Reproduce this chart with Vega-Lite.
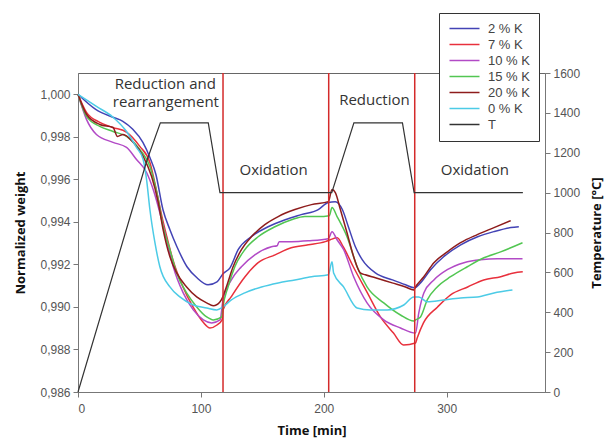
{
  "$schema": "https://vega.github.io/schema/vega-lite/v6.json",
  "autosize": {"type": "none"},
  "width": 467,
  "height": 319,
  "padding": {"left": 78, "top": 73, "right": 62, "bottom": 52},
  "background": "white",
  "config": {
    "view": {"stroke": "#666", "strokeWidth": 1},
    "axis": {"grid": false, "domainColor": "#777", "tickColor": "#777", "labelColor": "#555", "labelFont": "Liberation Sans", "labelFontSize": 12, "titleFont": "Open Sans", "titleFontSize": 13, "titleFontWeight": "bold", "titleColor": "#111", "tickSize": 5}
  },
  "datasets": {
    "weight": [
      {"series": "2 % K", "t": 0, "w": 1.0},
      {"series": "2 % K", "t": 14.4, "w": 0.99929},
      {"series": "2 % K", "t": 28.3, "w": 0.99892},
      {"series": "2 % K", "t": 36.5, "w": 0.99873},
      {"series": "2 % K", "t": 44.6, "w": 0.99835},
      {"series": "2 % K", "t": 52.8, "w": 0.99774},
      {"series": "2 % K", "t": 58.5, "w": 0.99703},
      {"series": "2 % K", "t": 63.4, "w": 0.99623},
      {"series": "2 % K", "t": 69.1, "w": 0.99458},
      {"series": "2 % K", "t": 74.8, "w": 0.99363},
      {"series": "2 % K", "t": 80.5, "w": 0.99283},
      {"series": "2 % K", "t": 88.7, "w": 0.99189},
      {"series": "2 % K", "t": 96.8, "w": 0.99137},
      {"series": "2 % K", "t": 105.8, "w": 0.99104},
      {"series": "2 % K", "t": 113.1, "w": 0.99118},
      {"series": "2 % K", "t": 118, "w": 0.99156},
      {"series": "2 % K", "t": 123.7, "w": 0.99184},
      {"series": "2 % K", "t": 130.3, "w": 0.99269},
      {"series": "2 % K", "t": 140.8, "w": 0.9933},
      {"series": "2 % K", "t": 154.7, "w": 0.99377},
      {"series": "2 % K", "t": 168.6, "w": 0.9941},
      {"series": "2 % K", "t": 181.6, "w": 0.99434},
      {"series": "2 % K", "t": 195.5, "w": 0.99458},
      {"series": "2 % K", "t": 203.6, "w": 0.99491},
      {"series": "2 % K", "t": 209.4, "w": 0.99495},
      {"series": "2 % K", "t": 215.1, "w": 0.99458},
      {"series": "2 % K", "t": 220, "w": 0.99377},
      {"series": "2 % K", "t": 225.7, "w": 0.99283},
      {"series": "2 % K", "t": 231.4, "w": 0.99221},
      {"series": "2 % K", "t": 242, "w": 0.9916},
      {"series": "2 % K", "t": 255.9, "w": 0.99127},
      {"series": "2 % K", "t": 266.5, "w": 0.99104},
      {"series": "2 % K", "t": 273.8, "w": 0.9909},
      {"series": "2 % K", "t": 278.7, "w": 0.99113},
      {"series": "2 % K", "t": 286.9, "w": 0.99175},
      {"series": "2 % K", "t": 297.5, "w": 0.99236},
      {"series": "2 % K", "t": 311.4, "w": 0.99292},
      {"series": "2 % K", "t": 325.2, "w": 0.9933},
      {"series": "2 % K", "t": 338.3, "w": 0.99354},
      {"series": "2 % K", "t": 352.2, "w": 0.99373},
      {"series": "2 % K", "t": 358.7, "w": 0.99377},

      {"series": "7 % K", "t": 0, "w": 1.0},
      {"series": "7 % K", "t": 6.9, "w": 0.99915},
      {"series": "7 % K", "t": 17.7, "w": 0.99868},
      {"series": "7 % K", "t": 28.3, "w": 0.99844},
      {"series": "7 % K", "t": 39.7, "w": 0.99821},
      {"series": "7 % K", "t": 50.3, "w": 0.99755},
      {"series": "7 % K", "t": 58.5, "w": 0.99679},
      {"series": "7 % K", "t": 64.2, "w": 0.99538},
      {"series": "7 % K", "t": 68.3, "w": 0.99425},
      {"series": "7 % K", "t": 72.3, "w": 0.9933},
      {"series": "7 % K", "t": 77.2, "w": 0.99222},
      {"series": "7 % K", "t": 85.4, "w": 0.99094},
      {"series": "7 % K", "t": 93.6, "w": 0.99},
      {"series": "7 % K", "t": 101.7, "w": 0.98929},
      {"series": "7 % K", "t": 107.4, "w": 0.98901},
      {"series": "7 % K", "t": 113.1, "w": 0.98915},
      {"series": "7 % K", "t": 117.2, "w": 0.98939},
      {"series": "7 % K", "t": 118, "w": 0.98986},
      {"series": "7 % K", "t": 124.6, "w": 0.99047},
      {"series": "7 % K", "t": 135.9, "w": 0.99142},
      {"series": "7 % K", "t": 146.6, "w": 0.99208},
      {"series": "7 % K", "t": 160.4, "w": 0.99245},
      {"series": "7 % K", "t": 173.5, "w": 0.99278},
      {"series": "7 % K", "t": 187.4, "w": 0.99292},
      {"series": "7 % K", "t": 201.2, "w": 0.99307},
      {"series": "7 % K", "t": 205.3, "w": 0.99316},
      {"series": "7 % K", "t": 210.9, "w": 0.99325},
      {"series": "7 % K", "t": 215.8, "w": 0.99283},
      {"series": "7 % K", "t": 224, "w": 0.99189},
      {"series": "7 % K", "t": 235.5, "w": 0.99066},
      {"series": "7 % K", "t": 246.1, "w": 0.98953},
      {"series": "7 % K", "t": 256.7, "w": 0.98877},
      {"series": "7 % K", "t": 264.9, "w": 0.98821},
      {"series": "7 % K", "t": 274.6, "w": 0.9883},
      {"series": "7 % K", "t": 276, "w": 0.98854},
      {"series": "7 % K", "t": 281.1, "w": 0.98925},
      {"series": "7 % K", "t": 292.6, "w": 0.99},
      {"series": "7 % K", "t": 303.2, "w": 0.99057},
      {"series": "7 % K", "t": 317.1, "w": 0.99094},
      {"series": "7 % K", "t": 330.1, "w": 0.99127},
      {"series": "7 % K", "t": 344, "w": 0.99142},
      {"series": "7 % K", "t": 354.6, "w": 0.9916},
      {"series": "7 % K", "t": 361.9, "w": 0.99165},

      {"series": "10 % K", "t": 0, "w": 1.0},
      {"series": "10 % K", "t": 6.9, "w": 0.99882},
      {"series": "10 % K", "t": 15, "w": 0.99811},
      {"series": "10 % K", "t": 28.5, "w": 0.99774},
      {"series": "10 % K", "t": 39.5, "w": 0.9975},
      {"series": "10 % K", "t": 47.6, "w": 0.99693},
      {"series": "10 % K", "t": 55.8, "w": 0.99632},
      {"series": "10 % K", "t": 61.2, "w": 0.99552},
      {"series": "10 % K", "t": 66.6, "w": 0.99443},
      {"series": "10 % K", "t": 72.1, "w": 0.99316},
      {"series": "10 % K", "t": 77.5, "w": 0.99189},
      {"series": "10 % K", "t": 85.6, "w": 0.99066},
      {"series": "10 % K", "t": 93.8, "w": 0.98986},
      {"series": "10 % K", "t": 102, "w": 0.98939},
      {"series": "10 % K", "t": 108.8, "w": 0.98925},
      {"series": "10 % K", "t": 115.6, "w": 0.98939},
      {"series": "10 % K", "t": 118, "w": 0.99033},
      {"series": "10 % K", "t": 124.8, "w": 0.99127},
      {"series": "10 % K", "t": 133, "w": 0.99189},
      {"series": "10 % K", "t": 143.9, "w": 0.99245},
      {"series": "10 % K", "t": 157.4, "w": 0.99283},
      {"series": "10 % K", "t": 162, "w": 0.99288},
      {"series": "10 % K", "t": 163.7, "w": 0.99307},
      {"series": "10 % K", "t": 173.7, "w": 0.99307},
      {"series": "10 % K", "t": 187.4, "w": 0.99311},
      {"series": "10 % K", "t": 203.7, "w": 0.99321},
      {"series": "10 % K", "t": 206.7, "w": 0.99354},
      {"series": "10 % K", "t": 210.8, "w": 0.99316},
      {"series": "10 % K", "t": 216.2, "w": 0.99269},
      {"series": "10 % K", "t": 224.3, "w": 0.99142},
      {"series": "10 % K", "t": 235.2, "w": 0.99019},
      {"series": "10 % K", "t": 248.8, "w": 0.98939},
      {"series": "10 % K", "t": 262.4, "w": 0.98901},
      {"series": "10 % K", "t": 274.6, "w": 0.98877},
      {"series": "10 % K", "t": 277.3, "w": 0.98972},
      {"series": "10 % K", "t": 281.4, "w": 0.99066},
      {"series": "10 % K", "t": 289.6, "w": 0.99127},
      {"series": "10 % K", "t": 300.5, "w": 0.99175},
      {"series": "10 % K", "t": 314, "w": 0.99208},
      {"series": "10 % K", "t": 327.6, "w": 0.99222},
      {"series": "10 % K", "t": 341.3, "w": 0.99226},
      {"series": "10 % K", "t": 361.7, "w": 0.99226},

      {"series": "15 % K", "t": 0, "w": 1.0},
      {"series": "15 % K", "t": 6.9, "w": 0.99896},
      {"series": "15 % K", "t": 17.7, "w": 0.99849},
      {"series": "15 % K", "t": 28.5, "w": 0.99825},
      {"series": "15 % K", "t": 39.5, "w": 0.99802},
      {"series": "15 % K", "t": 50.3, "w": 0.99741},
      {"series": "15 % K", "t": 58.5, "w": 0.9966},
      {"series": "15 % K", "t": 65.3, "w": 0.99505},
      {"series": "15 % K", "t": 69.3, "w": 0.99377},
      {"series": "15 % K", "t": 74.8, "w": 0.99269},
      {"series": "15 % K", "t": 80.3, "w": 0.9916},
      {"series": "15 % K", "t": 88.4, "w": 0.99066},
      {"series": "15 % K", "t": 96.6, "w": 0.99},
      {"series": "15 % K", "t": 104.7, "w": 0.98953},
      {"series": "15 % K", "t": 110.1, "w": 0.98939},
      {"series": "15 % K", "t": 117, "w": 0.98953},
      {"series": "15 % K", "t": 118, "w": 0.99},
      {"series": "15 % K", "t": 122.1, "w": 0.99094},
      {"series": "15 % K", "t": 127.6, "w": 0.99189},
      {"series": "15 % K", "t": 135.7, "w": 0.99269},
      {"series": "15 % K", "t": 146.6, "w": 0.9933},
      {"series": "15 % K", "t": 160.2, "w": 0.99377},
      {"series": "15 % K", "t": 173.7, "w": 0.9941},
      {"series": "15 % K", "t": 184.7, "w": 0.99425},
      {"series": "15 % K", "t": 195.5, "w": 0.99425},
      {"series": "15 % K", "t": 204.5, "w": 0.99429},
      {"series": "15 % K", "t": 206.7, "w": 0.99467},
      {"series": "15 % K", "t": 210.8, "w": 0.99425},
      {"series": "15 % K", "t": 218.9, "w": 0.9933},
      {"series": "15 % K", "t": 227.1, "w": 0.99189},
      {"series": "15 % K", "t": 235.2, "w": 0.99094},
      {"series": "15 % K", "t": 248.8, "w": 0.99019},
      {"series": "15 % K", "t": 262.4, "w": 0.98962},
      {"series": "15 % K", "t": 273.2, "w": 0.98934},
      {"series": "15 % K", "t": 274.6, "w": 0.98939},
      {"series": "15 % K", "t": 278.7, "w": 0.98953},
      {"series": "15 % K", "t": 284.2, "w": 0.99033},
      {"series": "15 % K", "t": 292.3, "w": 0.99094},
      {"series": "15 % K", "t": 303.2, "w": 0.99142},
      {"series": "15 % K", "t": 316.8, "w": 0.99189},
      {"series": "15 % K", "t": 330.3, "w": 0.99231},
      {"series": "15 % K", "t": 343.9, "w": 0.99259},
      {"series": "15 % K", "t": 361.7, "w": 0.99302},

      {"series": "20 % K", "t": 0, "w": 1.0},
      {"series": "20 % K", "t": 6.9, "w": 0.99906},
      {"series": "20 % K", "t": 17.7, "w": 0.99858},
      {"series": "20 % K", "t": 28.5, "w": 0.99844},
      {"series": "20 % K", "t": 32.1, "w": 0.99802},
      {"series": "20 % K", "t": 36.7, "w": 0.99811},
      {"series": "20 % K", "t": 44.9, "w": 0.99774},
      {"series": "20 % K", "t": 53, "w": 0.99708},
      {"series": "20 % K", "t": 59.9, "w": 0.99613},
      {"series": "20 % K", "t": 65.3, "w": 0.99491},
      {"series": "20 % K", "t": 69.3, "w": 0.99363},
      {"series": "20 % K", "t": 74.8, "w": 0.99236},
      {"series": "20 % K", "t": 80.3, "w": 0.9916},
      {"series": "20 % K", "t": 88.4, "w": 0.99094},
      {"series": "20 % K", "t": 96.6, "w": 0.99047},
      {"series": "20 % K", "t": 104.7, "w": 0.99019},
      {"series": "20 % K", "t": 110.1, "w": 0.99005},
      {"series": "20 % K", "t": 115.6, "w": 0.99024},
      {"series": "20 % K", "t": 116.6, "w": 0.99033},
      {"series": "20 % K", "t": 120.7, "w": 0.99094},
      {"series": "20 % K", "t": 126.2, "w": 0.99189},
      {"series": "20 % K", "t": 133, "w": 0.99269},
      {"series": "20 % K", "t": 141.1, "w": 0.9933},
      {"series": "20 % K", "t": 152, "w": 0.99387},
      {"series": "20 % K", "t": 162.9, "w": 0.99425},
      {"series": "20 % K", "t": 176.5, "w": 0.99458},
      {"series": "20 % K", "t": 190, "w": 0.99481},
      {"series": "20 % K", "t": 203.7, "w": 0.99495},
      {"series": "20 % K", "t": 206.7, "w": 0.99552},
      {"series": "20 % K", "t": 209.4, "w": 0.99538},
      {"series": "20 % K", "t": 213.5, "w": 0.99458},
      {"series": "20 % K", "t": 218.9, "w": 0.99349},
      {"series": "20 % K", "t": 224.3, "w": 0.99236},
      {"series": "20 % K", "t": 229.7, "w": 0.9916},
      {"series": "20 % K", "t": 233.8, "w": 0.99151},
      {"series": "20 % K", "t": 242, "w": 0.99137},
      {"series": "20 % K", "t": 255.6, "w": 0.99113},
      {"series": "20 % K", "t": 266.5, "w": 0.99094},
      {"series": "20 % K", "t": 273.2, "w": 0.9908},
      {"series": "20 % K", "t": 274.6, "w": 0.99094},
      {"series": "20 % K", "t": 281.4, "w": 0.99142},
      {"series": "20 % K", "t": 289.6, "w": 0.99208},
      {"series": "20 % K", "t": 300.5, "w": 0.99259},
      {"series": "20 % K", "t": 311.3, "w": 0.99302},
      {"series": "20 % K", "t": 324.9, "w": 0.9934},
      {"series": "20 % K", "t": 338.5, "w": 0.99373},
      {"series": "20 % K", "t": 352.1, "w": 0.99406},

      {"series": "0 % K", "t": 0, "w": 1.0},
      {"series": "0 % K", "t": 15, "w": 0.99943},
      {"series": "0 % K", "t": 28.5, "w": 0.99892},
      {"series": "0 % K", "t": 39.5, "w": 0.99825},
      {"series": "0 % K", "t": 47.6, "w": 0.9975},
      {"series": "0 % K", "t": 53, "w": 0.99693},
      {"series": "0 % K", "t": 55.8, "w": 0.99599},
      {"series": "0 % K", "t": 58.5, "w": 0.99458},
      {"series": "0 % K", "t": 62.6, "w": 0.99302},
      {"series": "0 % K", "t": 66.6, "w": 0.99189},
      {"series": "0 % K", "t": 74.8, "w": 0.99094},
      {"series": "0 % K", "t": 82.9, "w": 0.99047},
      {"series": "0 % K", "t": 93.8, "w": 0.99009},
      {"series": "0 % K", "t": 104.7, "w": 0.98995},
      {"series": "0 % K", "t": 112.9, "w": 0.98986},
      {"series": "0 % K", "t": 118, "w": 0.99},
      {"series": "0 % K", "t": 124.8, "w": 0.99033},
      {"series": "0 % K", "t": 135.7, "w": 0.99066},
      {"series": "0 % K", "t": 149.3, "w": 0.99094},
      {"series": "0 % K", "t": 162.9, "w": 0.99113},
      {"series": "0 % K", "t": 176.5, "w": 0.99127},
      {"series": "0 % K", "t": 190, "w": 0.99142},
      {"series": "0 % K", "t": 203.7, "w": 0.99151},
      {"series": "0 % K", "t": 206.7, "w": 0.99212},
      {"series": "0 % K", "t": 208, "w": 0.9916},
      {"series": "0 % K", "t": 216.1, "w": 0.99094},
      {"series": "0 % K", "t": 227.1, "w": 0.98995},
      {"series": "0 % K", "t": 237.9, "w": 0.98986},
      {"series": "0 % K", "t": 251.5, "w": 0.98986},
      {"series": "0 % K", "t": 265.1, "w": 0.99009},
      {"series": "0 % K", "t": 273.2, "w": 0.99047},
      {"series": "0 % K", "t": 277.3, "w": 0.99047},
      {"series": "0 % K", "t": 284.2, "w": 0.99024},
      {"series": "0 % K", "t": 297.7, "w": 0.99033},
      {"series": "0 % K", "t": 311.3, "w": 0.99042},
      {"series": "0 % K", "t": 325, "w": 0.99047},
      {"series": "0 % K", "t": 338.5, "w": 0.99066},
      {"series": "0 % K", "t": 353.5, "w": 0.9908}
    ],
    "temperature": [
      {"series": "T", "t": 0, "temp": 0},
      {"series": "T", "t": 42, "temp": 870},
      {"series": "T", "t": 56, "temp": 1160},
      {"series": "T", "t": 67, "temp": 1350},
      {"series": "T", "t": 106, "temp": 1350},
      {"series": "T", "t": 115.5, "temp": 1000},
      {"series": "T", "t": 206.5, "temp": 1000},
      {"series": "T", "t": 224.5, "temp": 1350},
      {"series": "T", "t": 264, "temp": 1350},
      {"series": "T", "t": 273.5, "temp": 1000},
      {"series": "T", "t": 362, "temp": 1000}
    ],
    "steps": [
      {"t": 118},
      {"t": 204},
      {"t": 274}
    ],
    "notes": [
      {"t": 71, "w": 1.0005, "label": "Reduction and"},
      {"t": 71.5, "w": 0.99965, "label": "rearrangement"},
      {"t": 159.2, "w": 0.99646, "label": "Oxidation"},
      {"t": 241.2, "w": 0.99972, "label": "Reduction"},
      {"t": 322.9, "w": 0.99646, "label": "Oxidation"}
    ]
  },
  "layer": [
    {
      "layer": [
        {
          "data": {"name": "weight"},
          "mark": {"type": "line", "strokeWidth": 1.5, "interpolate": "monotone"},
          "encoding": {
            "x": {"field": "t", "type": "quantitative", "scale": {"domain": [0, 380], "nice": false}, "axis": {"title": "Time [min]", "values": [0, 100, 200, 300], "labelPadding": 6, "titlePadding": 10}},
            "y": {"field": "w", "type": "quantitative", "scale": {"domain": [0.986, 1.001], "nice": false, "zero": false}, "axis": {"title": "Normalized weight", "values": [0.986, 0.988, 0.99, 0.992, 0.994, 0.996, 0.998, 1.0], "labelExpr": "replace(format(datum.value, '.3f'), '.', ',')", "labelPadding": 3, "titlePadding": 12}},
            "color": {"field": "series", "type": "nominal", "scale": {"domain": ["2 % K", "7 % K", "10 % K", "15 % K", "20 % K", "0 % K", "T"], "range": ["#4343b5", "#e8303c", "#b24ac6", "#52c652", "#8e1c1c", "#4ccbe6", "#333333"]},
              "legend": {"orient": "none", "legendX": 361, "legendY": -60, "title": null, "symbolType": "M-1,0H5", "symbolSize": 100, "symbolStrokeWidth": 1.5, "labelFont": "Liberation Sans", "labelFontSize": 13, "labelColor": "#444", "labelOffset": 27, "padding": 9, "rowPadding": 2, "strokeColor": "#333", "fillColor": "white"}}
          }
        },
        {
          "data": {"name": "notes"},
          "mark": {"type": "text", "font": "Open Sans", "fontSize": 15, "color": "#333", "baseline": "middle", "align": "center"},
          "encoding": {
            "x": {"field": "t", "type": "quantitative"},
            "y": {"field": "w", "type": "quantitative"},
            "text": {"field": "label"}
          }
        }
      ]
    },
    {
      "data": {"name": "steps"},
      "mark": {"type": "rule", "color": "#d42a2a", "strokeWidth": 1.5},
      "encoding": {"x": {"field": "t", "type": "quantitative"}}
    },
    {
      "data": {"name": "temperature"},
      "mark": {"type": "line", "strokeWidth": 1.2},
      "encoding": {
        "x": {"field": "t", "type": "quantitative"},
        "y": {"field": "temp", "type": "quantitative", "scale": {"domain": [0, 1600], "nice": false}, "axis": {"orient": "right", "title": "Temperature [°C]", "format": "d", "values": [0, 200, 400, 600, 800, 1000, 1200, 1400, 1600], "titleAngle": 270, "labelPadding": 3, "titlePadding": 24}},
        "color": {"field": "series", "type": "nominal"}
      }
    }
  ],
  "resolve": {"scale": {"y": "independent"}}
}
